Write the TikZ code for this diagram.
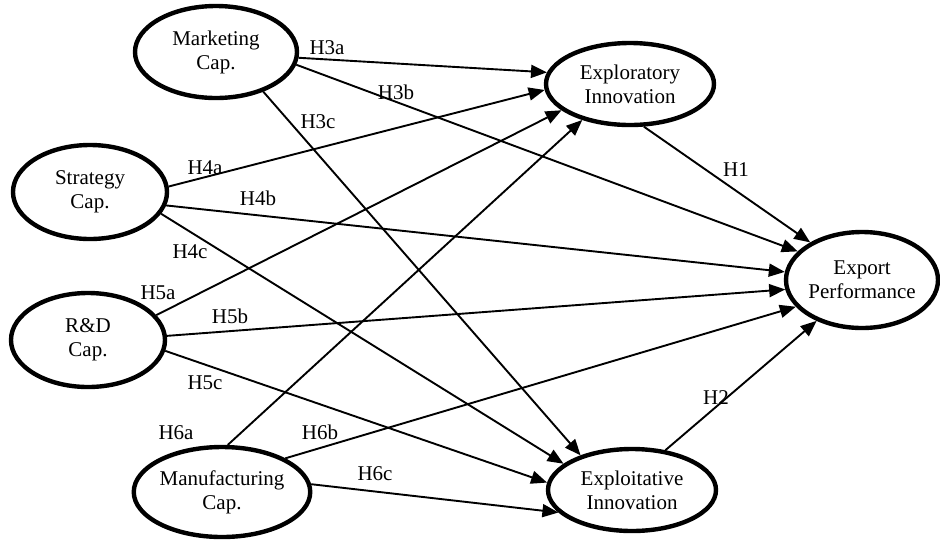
\documentclass[tikz,border=0pt]{standalone}
\usepackage{fontspec}
\setmainfont{Liberation Serif}
\usetikzlibrary{shapes.geometric,arrows.meta}
\begin{document}
\begin{tikzpicture}[x=1pt,y=-1pt,
  construct/.style={ellipse,draw,line width=4.4pt,inner sep=0pt,align=center,font=\fontsize{21}{24}\selectfont},
  path/.style={line width=1.9pt,-{Triangle[length=16pt,width=13pt]}},
  hyp/.style={font=\fontsize{21}{24}\selectfont,inner sep=0pt}]
\useasboundingbox (0,0) rectangle (940,539);
\node[construct,minimum width=162pt,minimum height=92pt] (mk) at (216,52) {Marketing\\Cap.};
\node[construct,minimum width=154pt,minimum height=94pt] (st) at (90,192) {Strategy\\Cap.};
\node[construct,minimum width=154pt,minimum height=94pt] (rd) at (88,340) {R\&D\\Cap.};
\node[construct,minimum width=170pt,minimum height=90pt] (mf) at (222,492) {Manufacturing\\Cap.};
\node[construct,minimum width=168pt,minimum height=82pt] (er) at (630,84) {Exploratory\\Innovation};
\node[construct,minimum width=168pt,minimum height=82pt] (ei) at (632,490) {Exploitative\\Innovation};
\node[construct,minimum width=152pt,minimum height=96pt] (ep) at (862,280) {Export\\Performance};
% paths
\draw[path] (mk.-4) -- (er.172);
\draw[path] (mk.-9) -- (ep.156);
\draw[path] (mk.-40) -- (ei.146);
\draw[path] (st.4) -- (er.184);
\draw[path] (st.-10) -- (ep.174);
\draw[path] (st.-17) -- (ei.159);
\draw[path] (rd.20) -- (er.201);
\draw[path] (rd.3) -- (ep.187);
\draw[path] (rd.-8) -- (ei.175);
\draw[path] (mf.83) -- (er.217);
\draw[path] (mf.28) -- (ep.202);
\draw[path] (mf.5) -- (ei.197);
\draw[path] (er.-72) -- (ep.144);
\draw[path] (ei.50) -- (ep.222);
% labels
\node[hyp] (l3a) at (327,48) {H3a};
\node[hyp] (l3b) at (396,92) {H3b};
\node[hyp] (l3c) at (318,122) {H3c};
\node[hyp] (l4a) at (205,168) {H4a};
\node[hyp] (l4b) at (258,198) {H4b};
\node[hyp] (l4c) at (190,252) {H4c};
\node[hyp] (l5a) at (158,293) {H5a};
\node[hyp] (l5b) at (230,316) {H5b};
\node[hyp] (l5c) at (205,383) {H5c};
\node[hyp] (l6a) at (176,433) {H6a};
\node[hyp] (l6b) at (320,432) {H6b};
\node[hyp] (l6c) at (375,474) {H6c};
\node[hyp] (l1) at (736,170) {H1};
\node[hyp] (l2) at (716,398) {H2};
\end{tikzpicture}
\end{document}
